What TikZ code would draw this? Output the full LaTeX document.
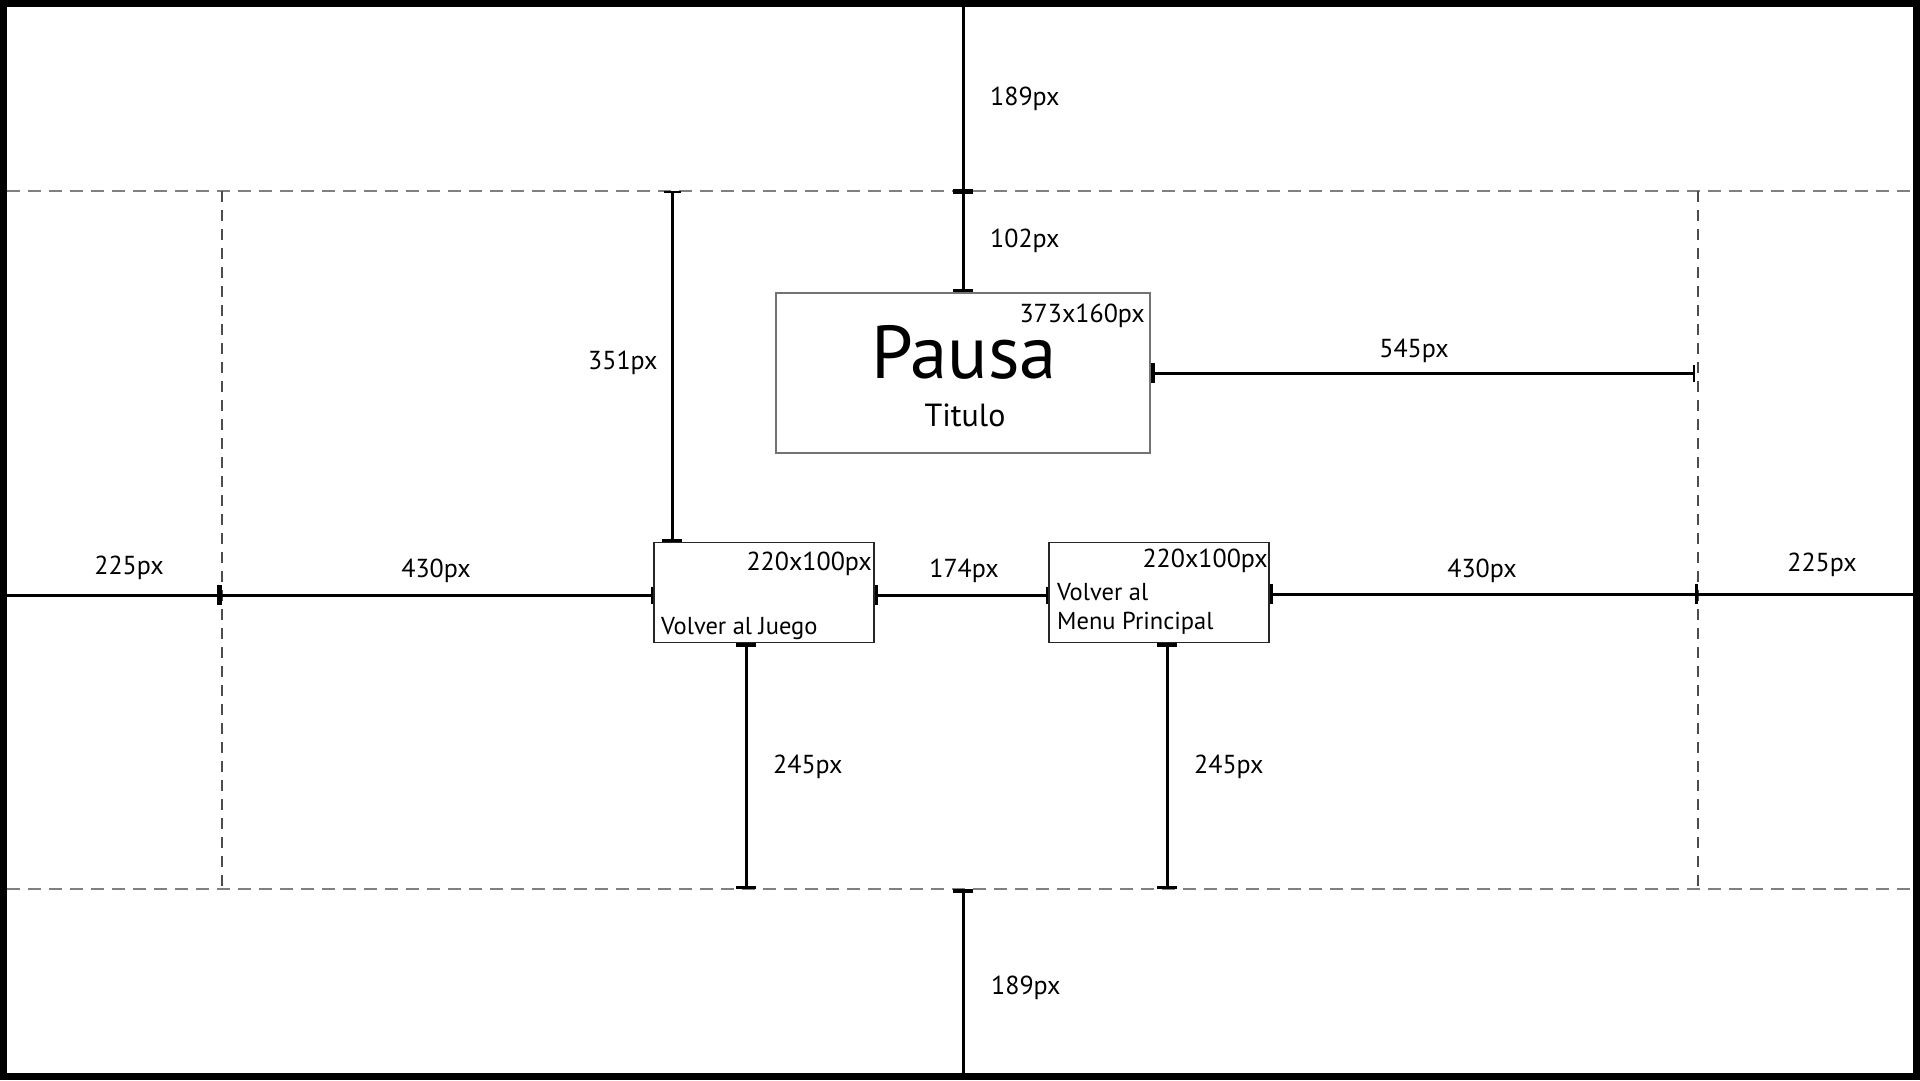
\documentclass[tikz,border=0pt]{standalone}
\usepackage{fontspec}
\setmainfont{PT Sans}
\usetikzlibrary{arrows.meta}
\begin{document}
\begin{tikzpicture}[x=1pt,y=-1pt,
  dim/.style={line width=3pt},
  lbl/.style={font=\fontsize{26}{30}\selectfont, inner sep=0pt},
  btxt/.style={font=\fontsize{24.5}{28}\selectfont, inner sep=0pt},
  hguide/.style={draw=black!50, line width=1.8pt, dash pattern=on 13pt off 8pt},
  vguide/.style={draw=black!70, line width=1.3pt, dash pattern=on 11pt off 8pt},
  titlebox/.style={draw=black!55, line width=2pt, minimum width=374pt, minimum height=160pt, inner sep=0pt},
  btnbox/.style={draw=black!85, line width=1.3pt, minimum width=220pt, minimum height=100pt, inner sep=0pt},
  bigbar/.tip={Bar[width=20pt,line width=3.5pt]},
  thinbar/.tip={Bar[width=17pt,line width=2pt]}
]
\useasboundingbox (0,0) rectangle (1920,1080);
\fill[white] (0,0) rectangle (1920,1080);

% guide lines
\coordinate (gtl) at (7,191);
\coordinate (gtr) at (1913,191);
\coordinate (gbl) at (7,889);
\coordinate (gbr) at (1913,889);
\coordinate (gvl1) at (222,191);
\coordinate (gvl2) at (222,889);
\coordinate (gvr1) at (1698,191);
\coordinate (gvr2) at (1698,889);
\draw[hguide] (gtl) -- (gtr);
\draw[hguide] (gbl) -- (gbr);
\draw[vguide] (gvl1) -- (gvl2);
\draw[vguide] (gvr1) -- (gvr2);

% boxes
\node[titlebox] (title) at (963,373) {};
\node[btnbox] (b1) at (764,592.5) {};
\node[btnbox] (b2) at (1159,592.5) {};

% box texts
\node[font=\fontsize{75}{80}\selectfont, anchor=base, inner sep=0pt] (pausa) at (964,378) {Pausa};
\node[font=\fontsize{32}{36}\selectfont, anchor=base, inner sep=0pt] (titulo) at (965,426) {Titulo};
\node[lbl, anchor=base east] (s1) at (1145,322) {373x160px};
\node[lbl, anchor=base east] (s2) at (872,570) {220x100px};
\node[lbl, anchor=base east] (s3) at (1268,567) {220x100px};
\node[btxt, anchor=base west] (v1) at (661,634) {Volver al Juego};
\node[btxt, anchor=base west] (v2) at (1057,600) {Volver al};
\node[btxt, anchor=base west] (v3) at (1057,629) {Menu Principal};

% dimension coordinates
\coordinate (ctop) at (963,7);
\coordinate (cg1) at (963,191);
\coordinate (c351a) at (672,191);
\coordinate (c351b) at (672,542);
\coordinate (hl0) at (7,595);
\coordinate (hl1) at (222,595);
\coordinate (hr1) at (1698,594);
\coordinate (hr0) at (1913,594);
\coordinate (c545) at (1695,373);
\coordinate (c245a1) at (746,643);
\coordinate (c245a2) at (746,889);
\coordinate (c245b1) at (1167,643);
\coordinate (c245b2) at (1167,889);
\coordinate (cg2) at (963,889);
\coordinate (cbot) at (963,1073);

% dimension lines
\draw[dim, -{Bar[width=20pt,line width=2.5pt]}] (ctop) -- (cg1);
\draw[dim, {Bar[width=20pt,line width=2.5pt]}-bigbar] (cg1) -- (title.north);
\draw[dim, thinbar-bigbar] (c351a) -- (c351b);
\draw[dim, bigbar-thinbar] (title.east) -- (c545);
\draw[dim, -{Bar[width=20pt,line width=5pt]}] (hl0) -- (hl1);
\draw[dim, -thinbar] (hl1) -- (b1.west |- hl1);
\draw[dim, bigbar-thinbar] (b1.east |- hl1) -- (b2.west |- hl1);
\draw[dim, bigbar-bigbar] (b2.east |- hr1) -- (hr1);
\draw[dim] (hr1) -- (hr0);
\draw[dim, bigbar-bigbar] (c245a1) -- (c245a2);
\draw[dim, bigbar-bigbar] (c245b1) -- (c245b2);
\draw[dim, bigbar-] (cg2) -- (cbot);

% dimension labels
\node[lbl, anchor=base west] (l189t) at (990,105) {189px};
\node[lbl, anchor=base west] (l102) at (990,247) {102px};
\node[lbl, anchor=base west] (l351) at (588,369) {351px};
\node[lbl, anchor=base] (l545) at (1414,357) {545px};
\node[lbl, anchor=base] (l225a) at (129,574) {225px};
\node[lbl, anchor=base] (l430a) at (436,577) {430px};
\node[lbl, anchor=base] (l174) at (964,577) {174px};
\node[lbl, anchor=base] (l430b) at (1482,577) {430px};
\node[lbl, anchor=base] (l225b) at (1822,571) {225px};
\node[lbl, anchor=base west] (l245a) at (773,773) {245px};
\node[lbl, anchor=base west] (l245b) at (1194,773) {245px};
\node[lbl, anchor=base west] (l189b) at (991,994) {189px};

% frame
\draw[line width=7pt] (3.5,3.5) rectangle (1916.5,1076.5);
\end{tikzpicture}
\end{document}
